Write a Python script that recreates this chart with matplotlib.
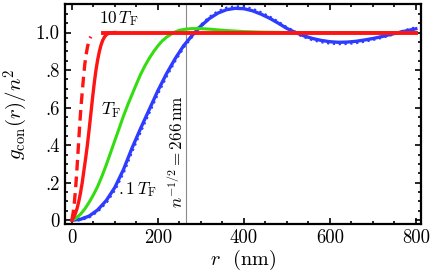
import numpy as np
import matplotlib
matplotlib.use("Agg")
import matplotlib.pyplot as plt
from matplotlib.ticker import MultipleLocator, FixedLocator

plt.rcParams['mathtext.fontset'] = 'cm'
plt.rcParams['font.family'] = 'serif'
plt.rcParams['font.serif'] = ['cmr10', 'DejaVu Serif']
plt.rcParams['axes.formatter.use_mathtext'] = True

# 10 T_F (solid) and the faster dashed curve
r_red = [0, 4, 8, 12, 16, 20, 24, 28, 32, 36, 40, 44, 48, 52, 56, 60, 64, 68,
         72, 76, 80, 85, 90, 100]
g_red = [0, 0.015, 0.035, 0.062, 0.10, 0.145, 0.20, 0.265, 0.33, 0.40, 0.48,
         0.565, 0.65, 0.73, 0.80, 0.855, 0.90, 0.935, 0.96, 0.977, 0.988, 0.995,
         0.999, 1.0]
r_red_flat = [72, 800]
g_red_flat = [1.0, 1.0]
r_dash = [0, 3, 6, 9, 12, 15, 18, 21, 24, 27, 30, 33, 36, 39, 42, 44]
g_dash = [0, 0.04, 0.10, 0.18, 0.28, 0.39, 0.50, 0.60, 0.68, 0.76, 0.83, 0.88,
          0.92, 0.95, 0.97, 0.978]

# T_F
r_green = [0, 10, 20, 30, 40, 50, 60, 70, 80, 90, 100, 110, 120, 130, 140, 150,
           160, 170, 180, 190, 200, 210, 220, 230, 240, 250, 265, 280, 300, 320,
           340, 370, 400, 440, 500, 800]
g_green = [0, 0.012, 0.032, 0.06, 0.095, 0.135, 0.18, 0.235, 0.295, 0.36, 0.425,
           0.49, 0.555, 0.615, 0.67, 0.725, 0.778, 0.823, 0.863, 0.898, 0.929,
           0.955, 0.975, 0.99, 1.003, 1.012, 1.018, 1.021, 1.021, 1.018, 1.014,
           1.009, 1.005, 1.002, 1.0, 1.0]

# 0.1 T_F, solid and dotted
r_blue = [0, 20, 40, 60, 80, 100, 120, 140, 160, 180, 200, 220, 240, 260, 280,
          300, 320, 340, 360, 380, 400, 420, 440, 460, 480, 500, 520, 540, 560,
          580, 600, 620, 640, 660, 680, 700, 720, 740, 760, 780, 800]
g_blue = [0, 0.005, 0.022, 0.055, 0.105, 0.175, 0.27, 0.385, 0.49, 0.59, 0.69,
          0.78, 0.86, 0.93, 0.985, 1.035, 1.075, 1.104, 1.122, 1.129, 1.127,
          1.116, 1.098, 1.076, 1.05, 1.022, 1.0, 0.982, 0.968, 0.958, 0.951,
          0.948, 0.949, 0.953, 0.96, 0.968, 0.978, 0.989, 1.0, 1.01, 1.02]
g_blue_dot = [0, 0.004, 0.019, 0.05, 0.098, 0.166, 0.259, 0.373, 0.478, 0.579,
              0.68, 0.771, 0.853, 0.925, 0.983, 1.036, 1.079, 1.11, 1.129, 1.136,
              1.134, 1.123, 1.104, 1.081, 1.054, 1.024, 1.0, 0.979, 0.963, 0.952,
              0.945, 0.942, 0.943, 0.947, 0.955, 0.964, 0.975, 0.988, 1.0, 1.012,
              1.024]

vline_r = 266

x_ticks = [0, 200, 400, 600, 800]
x_labels = ['0', '200', '400', '600', '800']
y_ticks = [0, 0.2, 0.4, 0.6, 0.8, 1.0]
y_labels = ['0', '.2', '.4', '.6', '.8', '1.0']

fig = plt.figure(figsize=(4.37, 2.72), dpi=100)
ax = fig.add_axes([65/437, 1-224/272, (421-65)/437, (224-4)/272])

blue = '#2e3cff'
red = '#ff1414'
green = '#33dd11'

ax.axvline(vline_r, color='#8a8a8a', lw=0.8, zorder=1)
ax.plot(r_blue, g_blue_dot, color=blue, lw=2.6, ls=(0, (0.6, 1.0)), zorder=2)
ax.plot(r_blue, g_blue, color=blue, lw=2.4, zorder=3)
ax.plot(r_green, g_green, color=green, lw=2.2, zorder=4)
ax.plot(r_red_flat, g_red_flat, color=red, lw=2.8, zorder=5)
ax.plot(r_red, g_red, color=red, lw=2.4, zorder=5)
ax.plot(r_dash, g_dash, color=red, lw=2.4, ls=(0, (3.2, 1.8)), zorder=5)

ax.text(108, 1.077, r'$10\,T_\mathrm{F}$', fontsize=12.5, ha='center', va='center')
ax.text(91, 0.587, r'$T_\mathrm{F}$', fontsize=13, ha='center', va='center')
ax.text(152, 0.165, r'$.1\,T_\mathrm{F}$', fontsize=12.5, ha='center', va='center')
ax.text(242, 0.363, r'$n^{-1/2} = 266\,\mathrm{nm}$', fontsize=12.3,
        rotation=90, ha='center', va='center')

ax.set_xlim(-16, 812)
ax.set_ylim(-0.02, 1.152)
ax.xaxis.set_major_locator(FixedLocator(x_ticks))
ax.xaxis.set_minor_locator(MultipleLocator(50))
ax.set_xticklabels(x_labels)
ax.yaxis.set_major_locator(FixedLocator(y_ticks))
ax.yaxis.set_minor_locator(MultipleLocator(0.05))
ax.set_yticklabels(y_labels)
ax.tick_params(which='both', direction='in', top=True, right=True, labelsize=13.5,
               width=1.2, pad=4)
ax.tick_params(which='major', length=4)
ax.tick_params(which='minor', length=2.5)
for s in ax.spines.values():
    s.set_linewidth(1.6)

ax.set_xlabel(r'$r$  (nm)', fontsize=14.5, labelpad=0)
ax.set_ylabel(r'$g_\mathrm{con}(r)/n^2$', fontsize=15, labelpad=4)

fig.savefig('out.png', dpi=100)
